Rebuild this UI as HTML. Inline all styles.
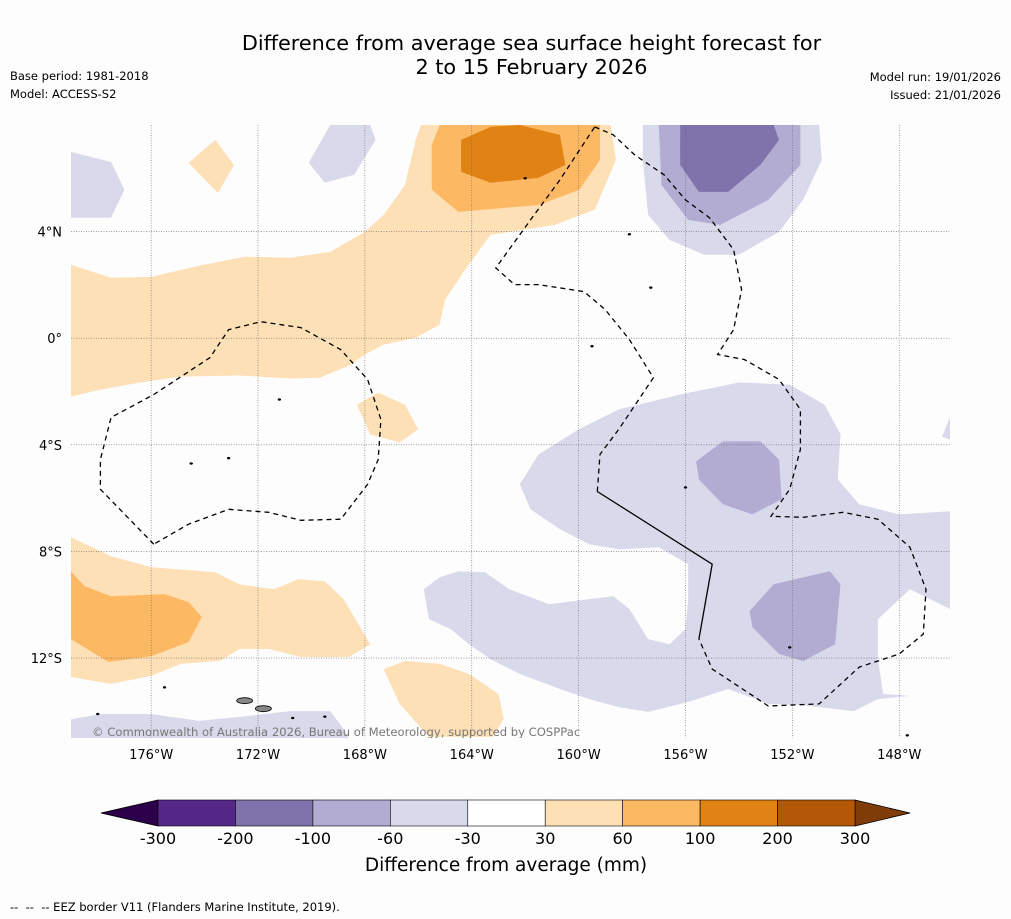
<!DOCTYPE html>
<html><head><meta charset="utf-8"><style>
html,body{margin:0;padding:0;background:#fdfdfd;}
body{width:1011px;height:919px;position:relative;overflow:hidden;font-family:"DejaVu Sans","Liberation Sans",sans-serif;}
.t{position:absolute;color:#000;}
</style></head><body>
<div class="t" style="left:0;width:1063px;top:31px;text-align:center;font-size:20.8px;line-height:24px;">Difference from average sea surface height forecast for<br>2 to 15 February 2026</div>
<div class="t" style="left:10px;top:69px;font-size:11.5px;">Base period: 1981-2018</div>
<div class="t" style="left:10px;top:87px;font-size:11.5px;">Model: ACCESS-S2</div>
<div class="t" style="right:10px;top:70px;font-size:11.5px;text-align:right;">Model run: 19/01/2026</div>
<div class="t" style="right:10px;top:88px;font-size:11.5px;text-align:right;">Issued: 21/01/2026</div>
<div class="t" style="left:10px;top:900px;font-size:11.5px;">-- &nbsp;-- &nbsp;-- EEZ border V11 (Flanders Marine Institute, 2019).</div>
<svg id="svg" width="1011" height="919" style="position:absolute;left:0;top:0"></svg>
<script>
const lonMin=-179, lonMax=-146.1, latMin=-15, latMax=8;
const lonTicks=[-176,-172,-168,-164,-160,-156,-152,-148];
const latTicks=[4,0,-4,-8,-12];
const levels=[-300,-200,-100,-60,-30,30,60,100,200,300];
const levelColors=["#542788","#8073ac","#b2abd2","#d8daeb","#ffffff","#fee0b6","#fdb863","#e08214","#b35806"];
const underColor="#2d004b", overColor="#7f3b08";
const lightOrangeBand=[[-179,2.76],[-177.5,2.27],[-176,2.3],[-174.2,2.72],[-172.5,3.06],[-170.8,3.02],[-169.3,3.24],[-168,3.99],[-167.3,4.63],[-166.5,5.75],[-166.1,7.44],[-165.9,8],[-158.8,8],[-158.6,6.69],[-159.4,4.82],[-160.9,4.25],[-163.3,3.88],[-164.2,2.64],[-165,1.45],[-165.2,0.51],[-166.1,0.02],[-167.3,-0.24],[-168,-0.61],[-168.6,-1.03],[-169.7,-1.48],[-170.8,-1.51],[-172.7,-1.4],[-174.9,-1.44],[-176.4,-1.66],[-177.9,-1.93],[-179,-2.19]];
const orangeTop=[[-165.5,7.25],[-165.2,8],[-159.2,8],[-159.2,6.69],[-159.97,5.57],[-161.5,5.0],[-164.5,4.74],[-165.5,5.57]];
const darkOrangeTop=[[-164.4,7.44],[-163.3,7.93],[-162.2,8],[-160.7,7.63],[-160.5,6.5],[-161.5,6.02],[-163.3,5.83],[-164.4,6.24]];
const loDiamond=[[-174.6,6.58],[-173.6,7.44],[-172.9,6.5],[-173.5,5.45]];
const loSmall=[[-168.3,-2.49],[-167.5,-2.04],[-166.5,-2.49],[-166,-3.42],[-166.7,-3.91],[-167.8,-3.61]];
const loBottomLeft=[[-179,-7.47],[-177.5,-8.18],[-176,-8.59],[-173.6,-8.78],[-172.7,-9.23],[-171.4,-9.42],[-170.5,-9.04],[-169.5,-9.12],[-168.8,-9.79],[-167.8,-11.48],[-168.6,-11.96],[-170.4,-11.96],[-171.6,-11.66],[-172.7,-11.66],[-173.4,-12.1],[-174.9,-12.22],[-176,-12.67],[-177.5,-12.97],[-179,-12.71]];
const orangeBottomLeft=[[-179,-8.74],[-178.5,-9.3],[-177.5,-9.68],[-175.5,-9.6],[-174.6,-9.9],[-174.1,-10.46],[-174.6,-11.4],[-176,-11.93],[-177.6,-12.15],[-179,-11.29]];
const loBottomCenter=[[-167.3,-12.41],[-166.5,-12.11],[-165.2,-12.22],[-164.1,-12.6],[-163,-13.35],[-162.8,-14.28],[-163.2,-14.96],[-165.6,-14.96],[-166.7,-13.72]];
const lpTopLeft=[[-179,6.99],[-177.5,6.61],[-177,5.57],[-177.5,4.52],[-179,4.52]];
const lpTop=[[-170.1,6.58],[-169.3,8],[-167.8,8],[-167.6,7.44],[-168.4,6.13],[-169.5,5.83]];
const lpTopRight=[[-157.6,8],[-151,8],[-150.9,6.69],[-151.6,5.19],[-152.5,3.99],[-154,3.13],[-155.3,3.13],[-156.6,3.69],[-157.4,4.63],[-157.6,6.69]];
const mpTopRight=[[-157,8],[-151.7,8],[-151.7,6.5],[-152.9,5.19],[-154.7,4.25],[-155.9,4.44],[-156.9,5.75]];
const dpTopRight=[[-156.2,8],[-152.7,8],[-152.5,7.44],[-153.2,6.5],[-154.4,5.49],[-155.5,5.49],[-156.2,6.5]];
const lpLower=[[-161.5,-4.36],[-160,-3.42],[-158.5,-2.67],[-156.2,-2.11],[-154,-1.66],[-152.1,-1.74],[-150.8,-2.49],[-150.2,-3.61],[-150.3,-5.3],[-149.5,-6.23],[-148,-6.61],[-146.1,-6.49],[-146.1,-10.16],[-147.6,-9.42],[-148.8,-10.54],[-148.8,-12.04],[-148.6,-13.35],[-147.6,-13.42],[-148.8,-13.54],[-149.7,-13.99],[-151.7,-13.76],[-152.9,-13.72],[-154.4,-13.16],[-155.9,-13.65],[-157.4,-14.02],[-158.5,-13.84],[-159.6,-13.54],[-160.7,-13.16],[-162.2,-12.6],[-163.3,-12.04],[-164.1,-11.48],[-164.8,-10.91],[-165.6,-10.54],[-165.8,-9.42],[-165.2,-8.97],[-164.5,-8.74],[-163.5,-8.78],[-162.6,-9.42],[-161.1,-9.98],[-159.6,-9.79],[-158.7,-9.68],[-158.1,-10.16],[-157.4,-11.29],[-156.6,-11.48],[-156,-10.91],[-155.9,-9.79],[-155.9,-8.48],[-157,-7.84],[-158.5,-7.92],[-159.6,-7.73],[-160.7,-7.17],[-161.8,-6.42],[-162.2,-5.48]];
const lpEdge=[[-146.4,-3.69],[-146.1,-2.97],[-146.1,-3.8]];
const mpLower1=[[-155.6,-4.62],[-154.6,-3.87],[-153.2,-3.87],[-152.5,-4.55],[-152.4,-6.04],[-153.5,-6.61],[-154.6,-6.23],[-155.5,-5.3]];
const mpLower2=[[-153.6,-10.24],[-152.7,-9.23],[-150.6,-8.74],[-150.2,-9.23],[-150.4,-11.48],[-151.6,-12.11],[-152.5,-11.85],[-153.5,-10.84]];
const lpBottomLeft=[[-179.3,-14.36],[-177.9,-14.1],[-176,-14.1],[-174.2,-14.36],[-172.7,-14.21],[-170.8,-13.99],[-169.3,-13.99],[-168.8,-14.66],[-168.6,-15],[-179.3,-15]];
const regions=[[5,lightOrangeBand],[6,orangeTop],[7,darkOrangeTop],[5,loDiamond],[5,loSmall],[5,loBottomLeft],[6,orangeBottomLeft],[5,loBottomCenter],[3,lpTopLeft],[3,lpTop],[3,lpTopRight],[2,mpTopRight],[1,dpTopRight],[3,lpLower],[3,lpEdge],[2,mpLower1],[2,mpLower2],[3,lpBottomLeft]];
const eezEast=[[-159.4,7.93],[-158.7,7.63],[-157.9,6.88],[-156.8,6.13],[-156,5.19],[-155.1,4.52],[-154.2,3.32],[-153.9,1.82],[-154.2,0.32],[-154.8,-0.61],[-153.8,-0.8],[-152.5,-1.55],[-151.7,-2.67],[-151.7,-4.17],[-152.1,-5.67],[-152.8,-6.68],[-151.6,-6.72],[-150.1,-6.53],[-148.8,-6.79],[-147.6,-7.84],[-147,-9.42],[-147.1,-11.1],[-148,-11.85],[-149.5,-12.34],[-151,-13.72],[-152.9,-13.8],[-155,-12.41],[-155.5,-11.29]];
const eezSolid=[[-155.5,-11.29],[-155,-8.48],[-159.3,-5.75]];
const eezWest2=[[-159.3,-5.75],[-159.2,-4.36],[-158.5,-3.42],[-157.2,-1.48],[-158.1,-0.05],[-159,1.07],[-159.8,1.75],[-161.5,2.01],[-162.4,2.01],[-163.1,2.64],[-161.8,4.44],[-160.7,5.94],[-159.4,7.93]];
const eezWest=[[-175.9,-7.73],[-177.9,-5.67],[-177.9,-4.55],[-177.5,-2.97],[-175.9,-2.11],[-173.8,-0.73],[-173.1,0.32],[-171.9,0.62],[-170.4,0.4],[-168.9,-0.43],[-167.9,-1.55],[-167.4,-3.05],[-167.5,-4.55],[-167.9,-5.48],[-168.9,-6.79],[-170.4,-6.83],[-171.6,-6.53],[-173.1,-6.42],[-174.6,-6.98],[-175.9,-7.73]];
const islands=[[-172.5,-13.6],[-171.8,-13.9],[-170.7,-14.25],[-169.5,-14.2],[-175.5,-13.1],[-178,-14.1],[-162,6],[-157.3,1.9],[-159.5,-0.3],[-158.1,3.9],[-152.1,-11.6],[-156,-5.6],[-147.7,-14.9],[-171.2,-2.3],[-173.1,-4.5],[-174.5,-4.7]];

const NS="http://www.w3.org/2000/svg";
const svg=document.getElementById('svg');
const FONT='DejaVu Sans, Liberation Sans, sans-serif';
const X0=71,X1=950,Y0=125,Y1=738;
const xS=lon=>X0+(lon-lonMin)/(lonMax-lonMin)*(X1-X0);
const yS=lat=>Y0+(latMax-lat)/(latMax-latMin)*(Y1-Y0);
function mk(tag,attrs,parent){const e=document.createElementNS(NS,tag);for(const k in attrs)e.setAttribute(k,attrs[k]);(parent||svg).appendChild(e);return e;}
const defs=mk('defs',{});
const cp=mk('clipPath',{id:'clip'},defs);mk('rect',{x:X0,y:Y0,width:X1-X0,height:Y1-Y0},cp);
const map=mk('g',{'clip-path':'url(#clip)'});


const pts=a=>a.map(p=>xS(p[0]).toFixed(1)+','+yS(p[1]).toFixed(1)).join(' ');
regions.forEach((r,i)=>{
 const e=mk('polygon',{points:pts(r[1]),fill:levelColors[r[0]],stroke:'none'},map);
 
 
});
lonTicks.forEach(l=>{const e=mk('line',{x1:xS(l),x2:xS(l),y1:Y0,y2:Y1,stroke:'#666','stroke-width':0.6,'stroke-dasharray':'1,1.5'},map);
 });
latTicks.forEach(l=>{const e=mk('line',{x1:X0,x2:X1,y1:yS(l),y2:yS(l),stroke:'#666','stroke-width':0.6,'stroke-dasharray':'1,1.5'},map);
 });
[eezEast,eezWest2,eezWest].forEach(a=>{const e=mk('polyline',{points:pts(a),fill:'none',stroke:'#000','stroke-width':1.3,'stroke-dasharray':'5,4'},map);
 });
{const e=mk('polyline',{points:pts(eezSolid),fill:'none',stroke:'#000','stroke-width':1.3},map);
 }
islands.forEach((p,i)=>{const big=i<2;const e=mk('ellipse',{cx:xS(p[0]),cy:yS(p[1]),rx:big?8:1.5,ry:big?3:1,fill:big?'#888':'#000',stroke:'#000','stroke-width':big?0.8:0.5},map);
 });
{const e=mk('text',{x:92,y:736,'font-size':11.6,fill:'#777','font-family':FONT},map);e.textContent='© Commonwealth of Australia 2026, Bureau of Meteorology, supported by COSPPac';
 }
lonTicks.forEach(l=>{const e=mk('text',{x:xS(l),y:759,'font-size':13,'text-anchor':'middle','font-family':FONT});e.textContent=Math.abs(l)+'°W';
 });
latTicks.forEach(l=>{const e=mk('text',{x:62,y:yS(l)+5,'font-size':13,'text-anchor':'end','font-family':FONT});e.textContent=l===0?'0°':Math.abs(l)+'°'+(l>0?'N':'S');
 });
const cbX0=158,cbX1=855,cbY=800,cbH=26,n=levelColors.length,bw=(cbX1-cbX0)/n;
const cb=mk('g',{});
{const e=mk('polygon',{points:`101,${cbY+cbH/2} ${cbX0},${cbY} ${cbX0},${cbY+cbH}`,fill:underColor,stroke:'#000','stroke-width':0.8},cb);}
{const e=mk('polygon',{points:`910,${cbY+cbH/2} ${cbX1},${cbY} ${cbX1},${cbY+cbH}`,fill:overColor,stroke:'#000','stroke-width':0.8},cb);}
levelColors.forEach((c,i)=>{const e=mk('rect',{x:cbX0+i*bw,y:cbY,width:bw,height:cbH,fill:c,stroke:'#000','stroke-width':0.6},cb);});
levels.forEach((v,i)=>{const e=mk('text',{x:cbX0+i*bw,y:844,'font-size':16,'text-anchor':'middle','font-family':FONT},cb);e.textContent=v;});
{const e=mk('text',{x:506,y:871,'font-size':18.5,'text-anchor':'middle','font-family':FONT},cb);e.textContent='Difference from average (mm)';}
</script>
</body></html>
